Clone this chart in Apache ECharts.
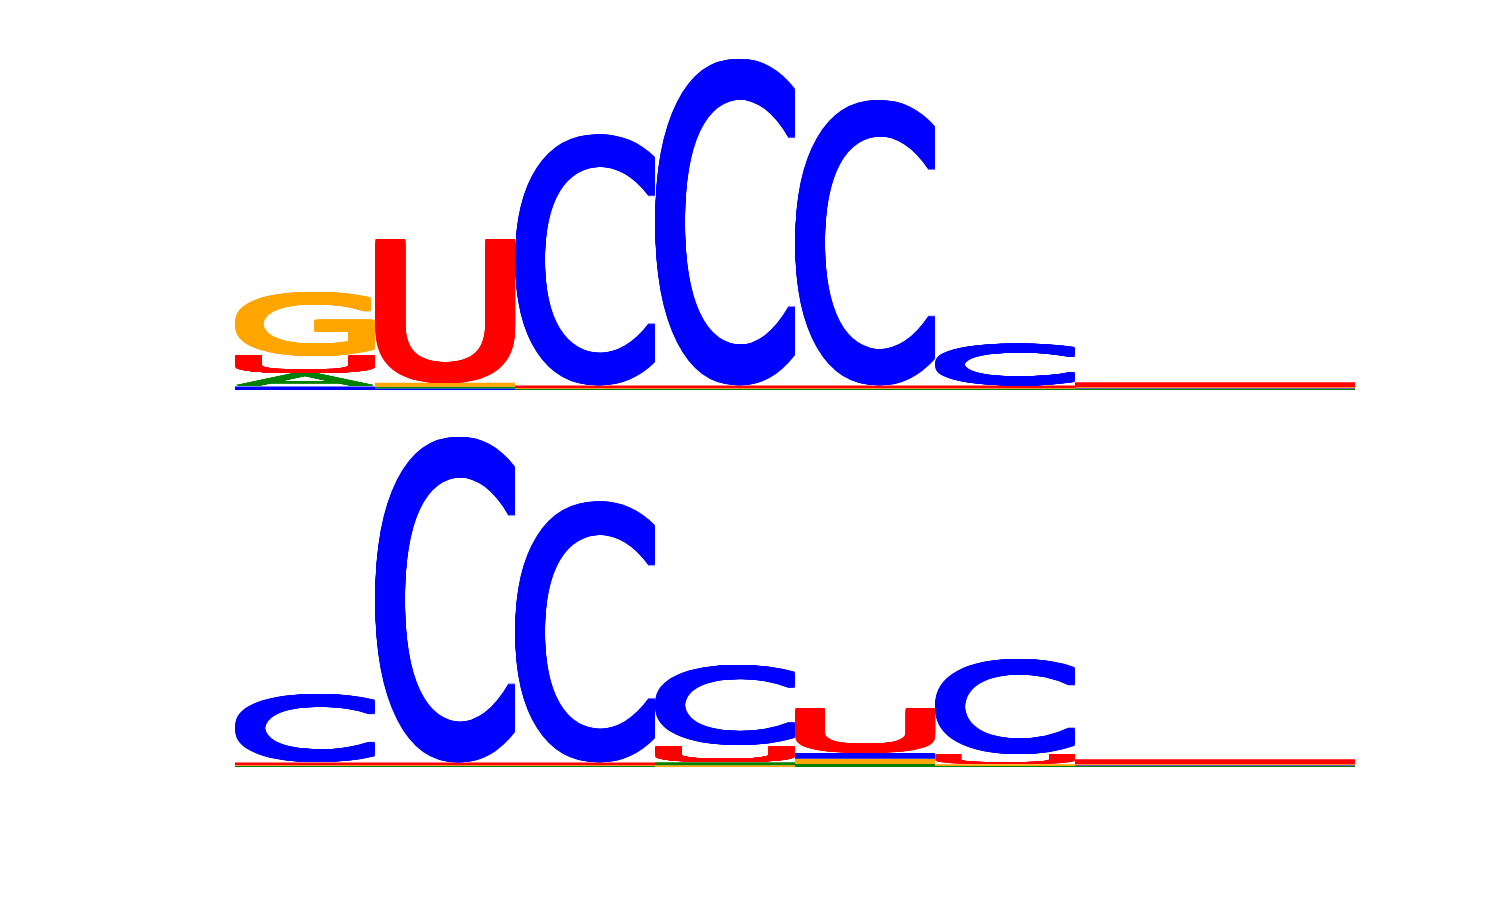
<!DOCTYPE html>
<html>
<head>
<meta charset="utf-8">
<script src="https://cdn.jsdelivr.net/npm/echarts@6/dist/echarts.min.js"></script>
<style>
html, body { margin: 0; padding: 0; background: #fff; }
#container { width: 1500px; height: 900px; }
</style>
</head>
<body>
<div id="container"></div>
<script>
// RNA letters and the usual colour scheme
var letters = ['A', 'C', 'G', 'U'];
var letterColors = ['#008000', '#0000ff', '#ffa500', '#ff0000'];
var positions = [1, 2, 3, 4, 5, 6, 7, 8];

// heights in bits - top logo
var topA = [0.07, 0.01, 0.005, 0.005, 0.005, 0.005, 0.005, 0.005];
var topC = [0.02, 0.008, 1.40, 1.82, 1.59, 0.235, 0.005, 0.005];
var topG = [0.36, 0.022, 0.005, 0.005, 0.005, 0.005, 0.005, 0.005];
var topU = [0.10, 0.80, 0.015, 0.015, 0.015, 0.015, 0.028, 0.028];

// bottom logo
var botA = [0.005, 0.005, 0.005, 0.016, 0.016, 0.005, 0.005, 0.005];
var botC = [0.38, 1.815, 1.455, 0.45, 0.032, 0.53, 0.005, 0.005];
var botG = [0.005, 0.005, 0.005, 0.01, 0.03, 0.01, 0.005, 0.005];
var botU = [0.015, 0.015, 0.015, 0.095, 0.25, 0.06, 0.028, 0.028];

var FONT = 'normal 200px "DejaVu Sans"';
var SPREAD = 3; // px the glyphs are thickened by on each side

// measure glyph ink boxes so each letter can be stretched to its cell
var ctx = document.createElement('canvas').getContext('2d');
ctx.font = FONT;
ctx.textBaseline = 'middle';
ctx.textAlign = 'left';
var glyphBox = {};
letters.forEach(function (l) {
    var m = ctx.measureText(l);
    glyphBox[l] = {
        left: m.actualBoundingBoxLeft,
        right: m.actualBoundingBoxRight,
        asc: m.actualBoundingBoxAscent,
        desc: m.actualBoundingBoxDescent
    };
});

// stack smallest letter at the bottom, largest on top
function buildStacks(cols) {
    var out = [];
    for (var i = 0; i < positions.length; i++) {
        var items = [];
        for (var k = 0; k < letters.length; k++) {
            items.push({k: k, v: cols[k][i]});
        }
        items.sort(function (a, b) { return a.v - b.v; });
        var y = 0;
        for (var j = 0; j < items.length; j++) {
            out.push([positions[i], y, y + items[j].v, items[j].k]);
            y += items[j].v;
        }
    }
    return out;
}

function renderLetter(params, api) {
    var pos = api.value(0), y0 = api.value(1), y1 = api.value(2), k = api.value(3);
    var p0 = api.coord([pos - 0.5, y1]);
    var p1 = api.coord([pos + 0.5, y0]);
    var w = p1[0] - p0[0], h = p1[1] - p0[1];
    if (h <= 0.1) return;
    // squashed letters just read as a solid band
    if (h < 6) {
        return {
            type: 'rect',
            silent: true,
            shape: {x: p0[0], y: p0[1], width: w, height: h},
            style: {fill: letterColors[k]}
        };
    }
    var b = glyphBox[letters[k]];
    var d = Math.min(SPREAD, h * 0.06);
    var n = Math.ceil(d);
    var sx = (w - 2 * d) / (b.left + b.right);
    var sy = (h - 2 * d) / (b.asc + b.desc);
    var bx = p0[0] + d + sx * b.left;
    var by = p0[1] + d + sy * b.asc;
    // shifted copies fatten the strokes a little, like the original
    var kids = [];
    for (var i = -n; i <= n; i++) {
        for (var j = -n; j <= n; j++) {
            kids.push({
                type: 'text',
                x: bx + i * d / n,
                y: by + j * d / n,
                scaleX: sx,
                scaleY: sy,
                silent: true,
                style: {
                    text: letters[k],
                    font: FONT,
                    fill: letterColors[k],
                    align: 'left',
                    verticalAlign: 'middle',
                    x: 0,
                    y: 0
                }
            });
        }
    }
    return {type: 'group', children: kids};
}

var dom = document.getElementById('container');
var myChart = echarts.init(dom);

function xAx(idx) {
    return {gridIndex: idx, type: 'value', min: 0.5, max: 8.5, show: false};
}
function yAx(idx) {
    return {gridIndex: idx, type: 'value', min: 0, max: 2, show: false};
}

var option = {
    backgroundColor: '#fff',
    animation: false,
    grid: [
        {left: 235, width: 1120, top: 30, height: 360},
        {left: 235, width: 1120, top: 407, height: 360}
    ],
    xAxis: [xAx(0), xAx(1)],
    yAxis: [yAx(0), yAx(1)],
    series: [
        {
            type: 'custom',
            xAxisIndex: 0,
            yAxisIndex: 0,
            clip: false,
            renderItem: renderLetter,
            encode: {x: 0, y: [1, 2]},
            data: buildStacks([topA, topC, topG, topU])
        },
        {
            type: 'custom',
            xAxisIndex: 1,
            yAxisIndex: 1,
            clip: false,
            renderItem: renderLetter,
            encode: {x: 0, y: [1, 2]},
            data: buildStacks([botA, botC, botG, botU])
        }
    ]
};

myChart.setOption(option);
</script>
</body>
</html>
